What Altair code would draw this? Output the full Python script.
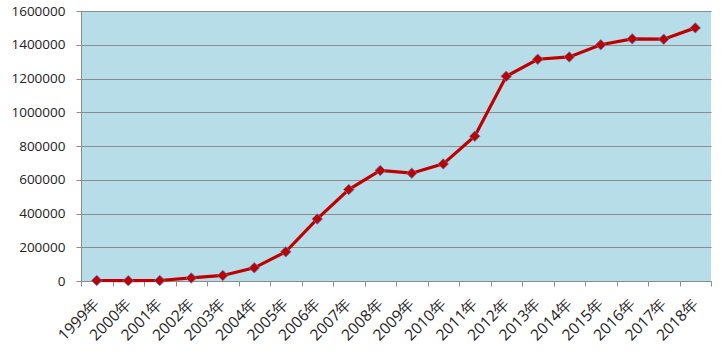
import altair as alt
import pandas as pd

years = ["1999年", "2000年", "2001年", "2002年", "2003年", "2004年", "2005年",
         "2006年", "2007年", "2008年", "2009年", "2010年", "2011年", "2012年",
         "2013年", "2014年", "2015年", "2016年", "2017年", "2018年"]
values = [3000, 2000, 3000, 18000, 33000, 78000, 173000, 368000, 542000, 655000,
          639000, 694000, 858000, 1213000, 1314000, 1328000, 1400000, 1435000,
          1433000, 1500000]

df = pd.DataFrame({"year": years, "value": values})

FONT = "Open Sans"

x = alt.X("year:N", sort=years, title=None,
          scale=alt.Scale(paddingInner=0, paddingOuter=0),
          axis=alt.Axis(labelAngle=-45, labelAlign="right", labelBaseline="middle",
                        labelFontSize=15.5, labelFont=FONT, labelColor="#222222",
                        labelPadding=15, tickSize=5, tickColor="#8c8c8c",
                        domainColor="#8c8c8c", tickBand="extent", grid=False))
y = alt.Y("value:Q", title=None,
          scale=alt.Scale(domain=[0, 1600000], nice=False),
          axis=alt.Axis(values=list(range(0, 1600001, 200000)), format="d",
                        labelFontSize=13.5, labelFont=FONT, labelColor="#222222",
                        labelPadding=11, tickSize=5, tickColor="#8c8c8c",
                        domainColor="#8c8c8c", gridColor="#8c8c8c", gridWidth=1))

base = alt.Chart(df).encode(x=x, y=y)

line = base.mark_line(color="#C00000", strokeWidth=3.2, interpolate="linear")
points = base.mark_point(shape="diamond", filled=True, size=110, color="#C00000",
                         stroke="#4F81BD", strokeWidth=0.8, opacity=1)

chart = (line + points).properties(
    width=630, height=270,
    autosize=alt.AutoSizeParams(type="none"),
    padding={"left": 81, "top": 11, "right": 17, "bottom": 70},
    background="white",
).configure_view(fill="#B7DEE8", stroke=None)

chart.save("out.html", embed_options={"renderer": "svg", "actions": False})
